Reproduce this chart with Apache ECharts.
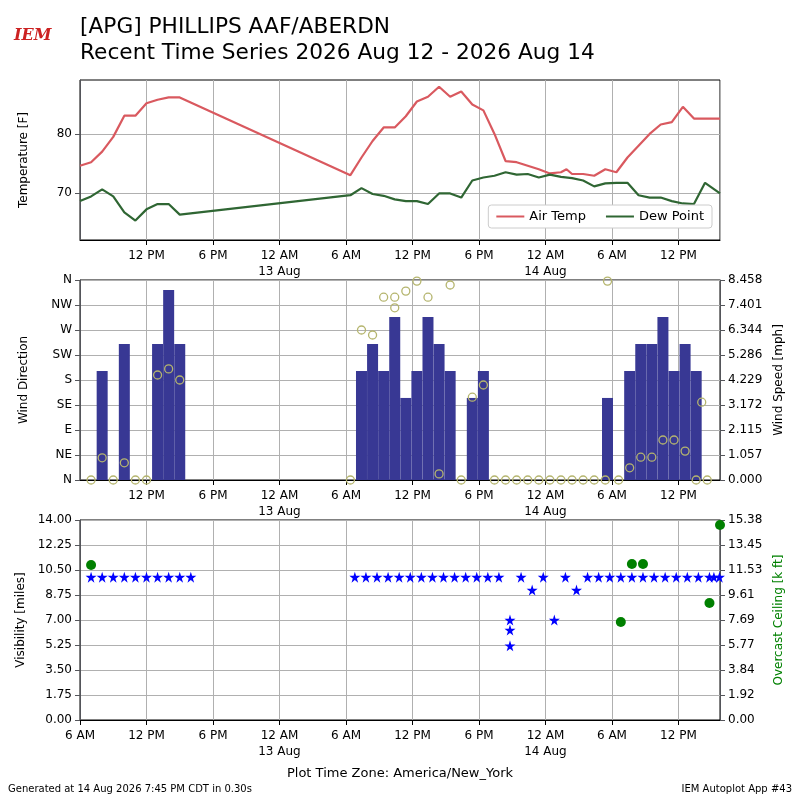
<!DOCTYPE html>
<html><head><meta charset="utf-8">
<script src="https://cdn.jsdelivr.net/npm/echarts@6/dist/echarts.min.js"></script>
<style>body{margin:0}#c{width:800px;height:800px}</style></head>
<body><div id="c"></div>
<script>
// hours since 2026-08-12 00:00 (America/New_York)
const airTemp=[[6,74.6],[7,75.2],[8,77],[9,79.5],[10,83.1],[11,83.1],[12,85.2],[13,85.8],[14,86.2],[15,86.2],
[30.4,73],[31.4,76],[32.4,78.8],[33.4,81.1],[34.4,81.1],[35.4,83],[36.4,85.5],[37.4,86.3],[38.4,88],[39.4,86.3],[40.4,87.2],[41.4,85],[42.4,84],[43.4,80],[44.4,75.4],[45.4,75.2],[46.4,74.6],[47.4,74],[48.4,73.3],[49.4,73.5],[49.9,74],[50.4,73.2],[51.4,73.2],[52.4,72.9],[53.4,74],[54.4,73.5],[55.4,76],[56.4,78],[57.4,80],[58.4,81.6],[59.4,82],[60.4,84.6],[61.4,82.6],[62.4,82.6],[63.75,82.6]];
const dewPoint=[[6,68.6],[7,69.4],[8,70.6],[9,69.4],[10,66.7],[11,65.3],[12,67.2],[13,68.1],[14,68.1],[15,66.3],
[30.4,69.6],[31.4,70.8],[32.4,69.8],[33.4,69.5],[34.4,68.9],[35.4,68.6],[36.4,68.6],[37.4,68.1],[38.4,69.9],[39.4,69.9],[40.4,69.2],[41.4,72.1],[42.4,72.6],[43.4,72.9],[44.4,73.5],[45.4,73.1],[46.4,73.2],[47.4,72.6],[48.4,73.1],[49.4,72.7],[50.4,72.5],[51.4,72.1],[52.4,71.1],[53.4,71.6],[54.4,71.7],[55.4,71.7],[56.4,69.6],[57.4,69.2],[58.4,69.2],[59.4,68.6],[60.4,68.2],[61.4,68.1],[62.4,71.7],[63.75,69.9]];
const windSpeed=[[8,4.61],[10,5.75],[13,5.75],[14,8.03],[15,5.75],
[31.4,4.61],[32.4,5.75],[33.4,4.61],[34.4,6.89],[35.4,3.47],[36.4,4.61],[37.4,6.89],[38.4,5.75],[39.4,4.61],[41.4,3.47],[42.4,4.61],
[53.6,3.47],[55.6,4.61],[56.6,5.75],[57.6,5.75],[58.6,6.89],[59.6,4.61],[60.6,5.75],[61.6,4.61]];
const windDir=[[7,0],[8,40],[9,0],[10,31],[11,0],[12,0],[13,189],[14,200],[15,180],
[30.4,0],[31.4,270],[32.4,261],[33.4,329],[34.4,329],[34.4,310],[35.4,340],[36.4,358],[37.4,329],[38.4,11],[39.4,351],[40.4,0],[41.4,149],[42.4,171],[43.4,0],[44.4,0],[45.4,0],[46.4,0],[47.4,0],[48.4,0],[49.4,0],[50.4,0],[51.4,0],[52.4,0],[53.4,0],[53.6,358],[54.6,0],[55.6,22],[56.6,41],[57.6,41],[58.6,72],[59.6,72],[60.6,52],[61.6,0],[62.1,140],[62.6,0]];
const visibility=[[7,10],[8,10],[9,10],[10,10],[11,10],[12,10],[13,10],[14,10],[15,10],[16,10],
[30.8,10],[31.8,10],[32.8,10],[33.8,10],[34.8,10],[35.8,10],[36.8,10],[37.8,10],[38.8,10],[39.8,10],[40.8,10],[41.8,10],[42.8,10],[43.8,10],
[44.8,7],[44.8,6.3],[44.8,5.2],[45.8,10],[46.8,9.1],[47.8,10],[48.8,7],[49.8,10],[50.8,9.1],[51.8,10],[52.8,10],[53.8,10],[54.8,10],[55.8,10],[56.8,10],[57.8,10],[58.8,10],[59.8,10],[60.8,10],[61.8,10],[62.8,10],[63.2,10],[63.7,10]];
const ceiling=[[7,11.92],[54.8,7.54],[55.8,12.0],[56.8,12.0],[62.8,9.0],[63.75,15.0]];
const dirLabels=['N','NE','E','SE','S','SW','W','NW','N'];
const speedLabels=['0.000','1.057','2.115','3.172','4.229','5.286','6.344','7.401','8.458'];
const ceilLabels=['0.00','1.92','3.84','5.77','7.69','9.61','11.53','13.45','15.38'];

function tfmt(v){const d=Math.floor(v/24),h=Math.round(v%24);
 let s=h==0?'12 AM':h==12?'12 PM':h<12?h+' AM':(h-12)+' PM';
 if(h==0)s+='\n'+(12+d)+' Aug';return s;}
const F='DejaVu Sans';
const gl={show:true,lineStyle:{color:'#b0b0b0'}};
function xa(i,showMin){return {type:'value',gridIndex:i,min:6,max:63.75,interval:6,
 axisLine:{lineStyle:{color:'#000'}},axisTick:{lineStyle:{color:'#000'}},splitLine:gl,
 axisLabel:{formatter:tfmt,color:'#000',fontFamily:F,fontSize:12,showMinLabel:showMin,showMaxLabel:false,lineHeight:16}};}
const yl={color:'#000',fontFamily:F,fontSize:12};
const ch=echarts.init(document.getElementById('c'));
ch.setOption({
 animation:false,
 grid:[{left:80,right:80,top:80,height:160,show:true,borderColor:'#000'},
       {left:80,right:80,top:280,height:200,show:true,borderColor:'#000'},
       {left:80,right:80,top:520,height:200,show:true,borderColor:'#000'}],
 xAxis:[xa(0,false),xa(1,false),xa(2,true)],
 yAxis:[
  {type:'value',gridIndex:0,min:62,max:89.15,axisLabel:Object.assign({customValues:[70,80]},yl),axisTick:{customValues:[70,80]},splitLine:gl,
   name:'Temperature [F]',nameLocation:'middle',nameGap:50,nameTextStyle:yl},
  {type:'value',gridIndex:1,min:0,max:360,interval:45,axisLabel:Object.assign({formatter:v=>dirLabels[v/45]},yl),splitLine:gl,
   name:'Wind Direction',nameLocation:'middle',nameGap:50,nameTextStyle:yl},
  {type:'value',gridIndex:1,min:0,max:8.458,interval:8.458/8,position:'right',axisLabel:Object.assign({formatter:v=>speedLabels[Math.round(v/(8.458/8))]},yl),splitLine:{show:false},
   name:'Wind Speed [mph]',nameLocation:'middle',nameGap:52,nameRotate:90,nameTextStyle:yl},
  {type:'value',gridIndex:2,min:0,max:14,interval:1.75,axisLabel:Object.assign({formatter:v=>v.toFixed(2)},yl),splitLine:gl,
   name:'Visibility [miles]',nameLocation:'middle',nameGap:50,nameTextStyle:yl},
  {type:'value',gridIndex:2,min:0,max:15.38,interval:15.38/8,position:'right',axisLabel:Object.assign({formatter:v=>ceilLabels[Math.round(v/(15.38/8))]},yl),splitLine:{show:false},
   name:'Overcast Ceiling [k ft]',nameLocation:'middle',nameGap:50,nameRotate:90,nameTextStyle:{color:'green',fontFamily:F,fontSize:12}}
 ],
 legend:{data:['Air Temp','Dew Point'],right:88,top:205,orient:'horizontal',borderColor:'#ccc',borderWidth:1,borderRadius:3,padding:[5,8],itemGap:20,
  textStyle:{fontFamily:F,fontSize:13,color:'#000'},backgroundColor:'#fff',itemWidth:28,itemHeight:2,icon:'rect'},
 series:[
  {name:'Air Temp',type:'line',xAxisIndex:0,yAxisIndex:0,data:airTemp,showSymbol:false,lineStyle:{color:'#d9595f',width:2.2},itemStyle:{color:'#d9595f'}},
  {name:'Dew Point',type:'line',xAxisIndex:0,yAxisIndex:0,data:dewPoint,showSymbol:false,lineStyle:{color:'#2f6633',width:2.2},itemStyle:{color:'#2f6633'}},
  {type:'bar',xAxisIndex:1,yAxisIndex:2,data:windSpeed,barWidth:11,itemStyle:{color:'#383894'}},
  {type:'scatter',xAxisIndex:1,yAxisIndex:1,data:windDir,symbol:'circle',symbolSize:8,itemStyle:{color:'rgba(0,0,0,0)',borderColor:'#b5b56e',borderWidth:1.3,opacity:1},z:5},
  {type:'scatter',xAxisIndex:2,yAxisIndex:3,data:visibility,symbol:'path://M50,0 L61,35 L98,35 L68,57 L79,91 L50,70 L21,91 L32,57 L2,35 L39,35 Z',symbolSize:11,itemStyle:{color:'#0000ff',opacity:1}},
  {type:'scatter',xAxisIndex:2,yAxisIndex:4,data:ceiling,symbol:'circle',symbolSize:10,itemStyle:{color:'#008000',opacity:1}}
 ],
 graphic:[
  {type:'text',x:80,y:16,style:{text:'[APG] PHILLIPS AAF/ABERDN',font:'21.7px "DejaVu Sans"',fill:'#000'}},
  {type:'text',x:80,y:42,style:{text:'Recent Time Series 2026 Aug 12 - 2026 Aug 14',font:'21.7px "DejaVu Sans"',fill:'#000'}},
  {type:'text',x:14,y:28,style:{text:'IEM',font:'italic bold 16px "DejaVu Serif"',fill:'#cc2222'}},
  {type:'text',x:400,y:767,style:{text:'Plot Time Zone: America/New_York',font:'13px "DejaVu Sans"',fill:'#000',align:'center'}},
  {type:'text',x:8,y:784,style:{text:'Generated at 14 Aug 2026 7:45 PM CDT in 0.30s',font:'10px "DejaVu Sans"',fill:'#000'}},
  {type:'text',x:792,y:784,style:{text:'IEM Autoplot App #43',font:'10px "DejaVu Sans"',fill:'#000',align:'right'}}
 ]
});
</script></body></html>
